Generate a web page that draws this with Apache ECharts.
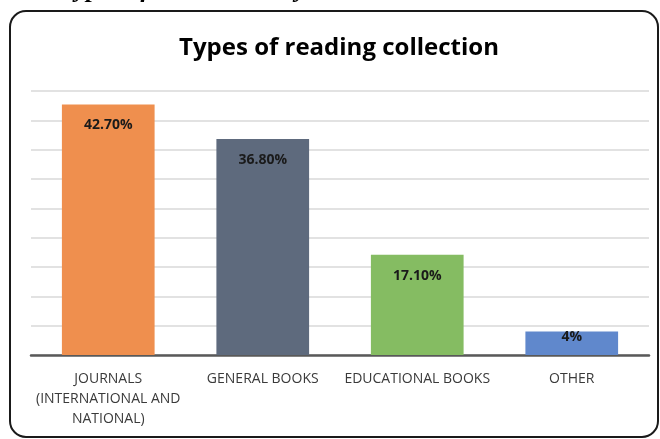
<!DOCTYPE html>
<html>
<head>
<meta charset="utf-8">
<script src="https://cdn.jsdelivr.net/npm/echarts@6/dist/echarts.min.js"></script>
<style>html,body{margin:0;padding:0;background:#fff;}#c{width:660px;height:439px;}</style>
</head>
<body>
<div id="c"></div>
<script>
const categories = ["JOURNALS\n(INTERNATIONAL AND\nNATIONAL)", "GENERAL BOOKS", "EDUCATIONAL BOOKS", "OTHER"];
const values = [42.7, 36.8, 17.1, 4];
const valueLabels = ["42.70%", "36.80%", "17.10%", "4%"];
const barColors = ["#ef8f4e", "#5e6a7d", "#85bc62", "#6088cc"];
const titleText = "Types of reading collection";
const captionText = "Types of Collections by Libraries";

const chart = echarts.init(document.getElementById('c'), null, {renderer: 'canvas'});
const FONT = "'Open Sans', 'Noto Sans', sans-serif";
chart.setOption({
  animation: false,
  backgroundColor: '#fff',
  title: {
    text: titleText,
    left: 334,
    top: 31,
    textAlign: 'center',
    textStyle: {fontFamily: FONT, fontWeight: 'bold', fontSize: 24, color: '#000'}
  },
  graphic: [
    {type: 'rect', shape: {x: 10, y: 11, width: 648, height: 426, r: 16},
     style: {fill: 'none', stroke: '#1a1a1a', lineWidth: 2}, z: 100},
    {type: 'text', x: 60, y: -23,
     style: {text: captionText, font: "italic bold 26px 'Liberation Serif', serif", fill: '#000'}}
  ],
  grid: {left: 31, right: 11, top: 91, bottom: 84},
  xAxis: {
    type: 'category',
    data: categories,
    axisLine: {lineStyle: {color: '#595959', width: 2.5}},
    axisTick: {show: false},
    axisLabel: {interval: 0, margin: 14, color: '#3a3a3a', fontFamily: FONT, fontSize: 14, lineHeight: 20}
  },
  yAxis: {
    type: 'value', min: 0, max: 45, interval: 5,
    axisLabel: {show: false},
    axisLine: {show: false}, axisTick: {show: false},
    splitLine: {lineStyle: {color: '#d9d9d9', width: 1.5}}
  },
  series: [{
    type: 'bar',
    barCategoryGap: '40%',
    data: values.map((v, i) => ({
      value: v,
      itemStyle: {color: barColors[i]},
      label: {distance: i === 3 ? -2 : 14}
    })),
    label: {
      show: true, position: 'insideTop',
      formatter: p => valueLabels[p.dataIndex],
      fontFamily: FONT, fontWeight: 'bold', fontSize: 14, color: '#1a1a1a'
    }
  }]
});
</script>
</body>
</html>
